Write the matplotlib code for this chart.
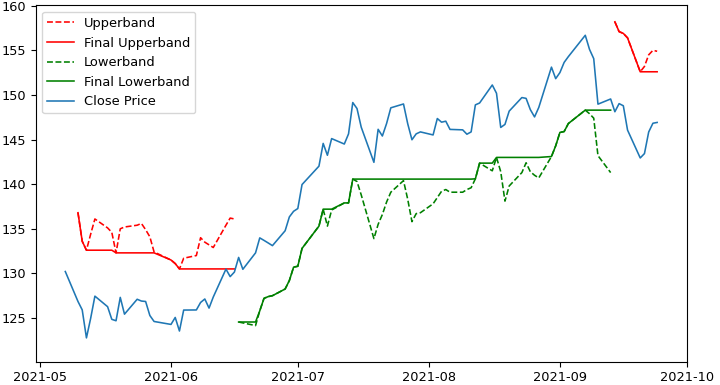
import numpy as np
import pandas as pd
import matplotlib
matplotlib.use("Agg")
import matplotlib.pyplot as plt

nan = np.nan

dates = ["2021-05-07", "2021-05-10", "2021-05-11", "2021-05-12", "2021-05-13", "2021-05-14",
         "2021-05-17", "2021-05-18", "2021-05-19", "2021-05-20", "2021-05-21",
         "2021-05-24", "2021-05-25", "2021-05-26", "2021-05-27", "2021-05-28",
         "2021-06-01", "2021-06-02", "2021-06-03", "2021-06-04",
         "2021-06-07", "2021-06-08", "2021-06-09", "2021-06-10", "2021-06-11",
         "2021-06-14", "2021-06-15", "2021-06-16", "2021-06-17", "2021-06-18",
         "2021-06-21", "2021-06-22", "2021-06-23", "2021-06-24", "2021-06-25",
         "2021-06-28", "2021-06-29", "2021-06-30", "2021-07-01", "2021-07-02",
         "2021-07-06", "2021-07-07", "2021-07-08", "2021-07-09",
         "2021-07-12", "2021-07-13", "2021-07-14", "2021-07-15", "2021-07-16",
         "2021-07-19", "2021-07-20", "2021-07-21", "2021-07-22", "2021-07-23",
         "2021-07-26", "2021-07-27", "2021-07-28", "2021-07-29", "2021-07-30",
         "2021-08-02", "2021-08-03", "2021-08-04", "2021-08-05", "2021-08-06",
         "2021-08-09", "2021-08-10", "2021-08-11", "2021-08-12", "2021-08-13",
         "2021-08-16", "2021-08-17", "2021-08-18", "2021-08-19", "2021-08-20",
         "2021-08-23", "2021-08-24", "2021-08-25", "2021-08-26", "2021-08-27",
         "2021-08-30", "2021-08-31", "2021-09-01", "2021-09-02", "2021-09-03",
         "2021-09-07", "2021-09-08", "2021-09-09", "2021-09-10",
         "2021-09-13", "2021-09-14", "2021-09-15", "2021-09-16", "2021-09-17",
         "2021-09-20", "2021-09-21", "2021-09-22", "2021-09-23", "2021-09-24"]

close = [130.21, 126.85, 125.91, 122.77, 124.97, 127.45,
         126.27, 124.85, 124.69, 127.31, 125.43,
         127.10, 126.90, 126.85, 125.28, 124.61,
         124.28, 125.06, 123.54, 125.89,
         125.90, 126.74, 127.13, 126.11, 127.35,
         130.48, 129.64, 130.15, 131.79, 130.46,
         132.30, 133.98, 133.70, 133.41, 133.11,
         134.78, 136.33, 136.96, 137.27, 139.96,
         142.02, 144.57, 143.24, 145.11,
         144.50, 145.64, 149.15, 148.48, 146.39,
         142.45, 146.15, 145.40, 146.80, 148.56,
         148.99, 146.77, 144.98, 145.64, 145.86,
         145.52, 147.36, 146.95, 147.06, 146.14,
         146.09, 145.60, 145.86, 148.89, 149.10,
         151.12, 150.19, 146.36, 146.70, 148.19,
         149.71, 149.62, 148.36, 147.54, 148.60,
         153.12, 151.83, 152.51, 153.65, 154.30,
         156.69, 155.11, 154.07, 148.97,
         149.55, 148.12, 149.03, 148.79, 146.06,
         142.94, 143.43, 145.85, 146.83, 146.92]

# upper bands: May 10 - Jun 16, Sep 14 - Sep 24
upperband = ([nan] +
             [136.8, 133.6, 132.6, 134.4, 136.1,
              135.1, 134.6, 132.3, 135.0, 135.2,
              135.4, 135.6, 134.9, 134.1, 132.4,
              131.5, 131.1, 130.5, 131.7,
              132.0, 134.0, 133.5, 133.2, 132.9,
              135.4, 136.2, 136.1] +
             [nan] * 61 +
             [158.2, 157.1, 156.9, 156.4,
              152.6, 153.2, 154.5, 155.0, 154.9])

final_upperband = ([nan] +
                   [136.8, 133.6, 132.6, 132.6, 132.6,
                    132.6, 132.6, 132.3, 132.3, 132.3,
                    132.3, 132.3, 132.3, 132.3, 132.3,
                    131.5, 131.1, 130.5, 130.5,
                    130.5, 130.5, 130.5, 130.5, 130.5,
                    130.5, 130.5, 130.5] +
                   [nan] * 61 +
                   [158.2, 157.1, 156.9, 156.4,
                    152.6, 152.6, 152.6, 152.6, 152.6])

# lower bands: Jun 17 - Sep 13
lowerband = ([nan] * 28 +
             [124.55, 124.45,
              124.15, 125.8, 127.2, 127.4, 127.5,
              128.25, 129.2, 130.7, 130.8, 132.8,
              135.3, 137.2, 135.3, 137.1,
              137.9, 137.9, 140.57, 140.3, 138.8,
              133.9, 135.5, 136.6, 138.0, 139.1,
              140.4, 138.3, 135.8, 136.7, 136.8,
              137.8, 138.5, 139.2, 139.4, 139.1,
              139.1, 139.4, 139.6, 140.6, 142.36,
              141.5, 143.0, 141.4, 138.1, 139.8,
              141.3, 142.4, 141.4, 141.0, 140.7,
              143.1, 144.3, 145.8, 145.9, 146.8,
              148.3, 147.9, 147.4, 143.2,
              141.3] +
             [nan] * 9)

final_lowerband = ([nan] * 28 +
                   [124.55, 124.55,
                    124.55, 125.8, 127.2, 127.4, 127.5,
                    128.25, 129.2, 130.7, 130.8, 132.8,
                    135.3, 137.2, 137.2, 137.2,
                    137.9, 137.9, 140.57, 140.57, 140.57,
                    140.57, 140.57, 140.57, 140.57, 140.57,
                    140.57, 140.57, 140.57, 140.57, 140.57,
                    140.57, 140.57, 140.57, 140.57, 140.57,
                    140.57, 140.57, 140.57, 140.6, 142.36,
                    142.36, 143.0, 143.0, 143.0, 143.0,
                    143.0, 143.0, 143.0, 143.0, 143.0,
                    143.1, 144.3, 145.8, 145.9, 146.8,
                    148.3, 148.3, 148.3, 148.3,
                    148.3] +
                   [nan] * 9)

x = pd.to_datetime(dates)

fig = plt.figure(figsize=(7.2, 3.85), dpi=100)
ax = fig.add_axes([0.0496, 0.0605, 0.9042, 0.9257])

lw = 1.15
ax.plot(x, upperband, color="red", linestyle="--", linewidth=lw, label="Upperband")
ax.plot(x, final_upperband, color="red", linestyle="-", linewidth=lw, label="Final Upperband")
ax.plot(x, lowerband, color="green", linestyle="--", linewidth=lw, label="Lowerband")
ax.plot(x, final_lowerband, color="green", linestyle="-", linewidth=lw, label="Final Lowerband")
ax.plot(x, close, color="#1f77b4", linewidth=lw, label="Close Price")

ax.set_ylim(120.1, 160.05)
ax.tick_params(labelsize=9.3)
ax.legend(loc="upper left", fontsize=9.4)

fig.savefig("out.png", dpi=100)
